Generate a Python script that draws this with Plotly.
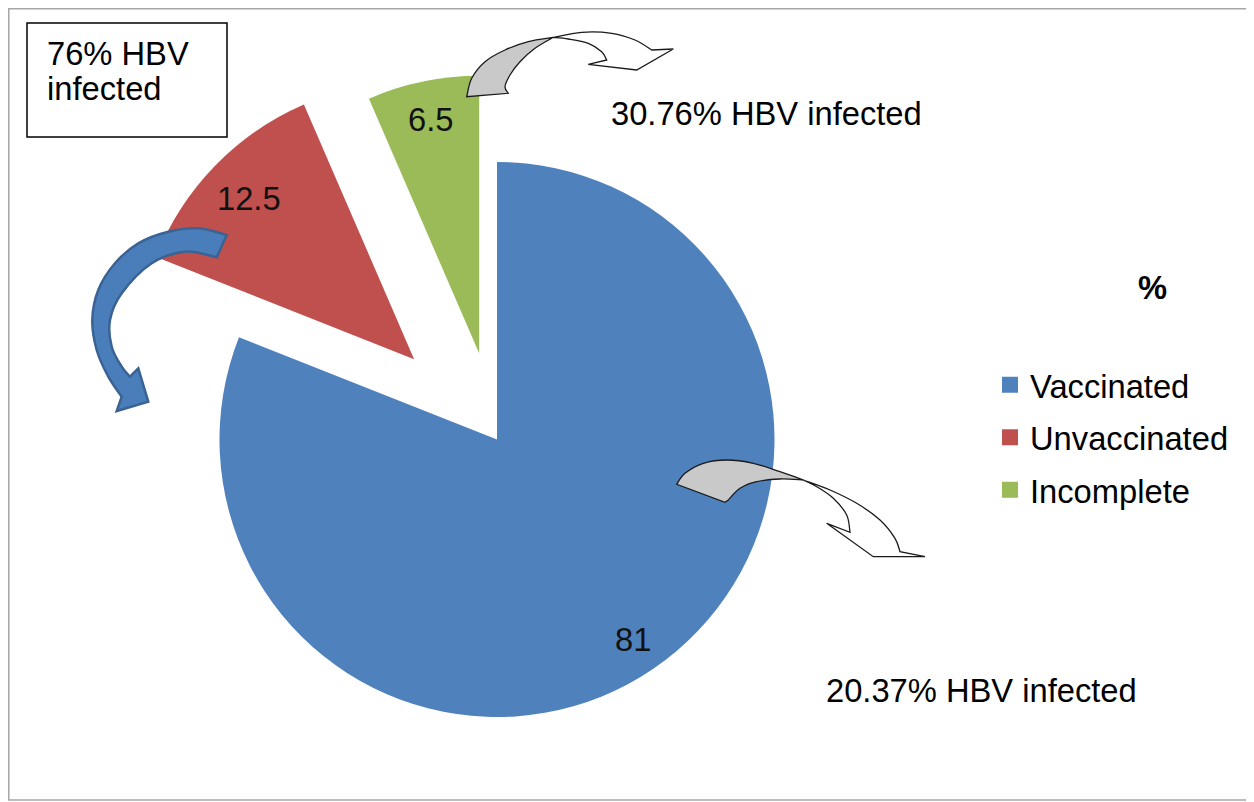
import math
import plotly.graph_objects as go

# page has an 8px body margin; work in reference-pixel coordinates and shift
OFF = 8
W, H = 1254 - OFF, 802 - OFF

# ---------------- data ----------------
categories = ["Vaccinated", "Unvaccinated", "Incomplete"]
values = [81, 12.5, 6.5]
value_labels = ["81", "12.5", "6.5"]
notes = {
    "box": ["76% HBV", "infected"],
    "incomplete": "30.76% HBV infected",
    "vaccinated": "20.37% HBV infected",
}
legend_title = "%"

# ---------------- style ----------------
slice_colors = ["#4F81BD", "#C0504D", "#9BBB59"]
pulls = [0.0, 0.416, 0.317]          # explode fraction of radius
label_r = [0.87, 0.83, 0.86]         # label distance as fraction of radius
CX, CY, R = 497, 439.5, 277.5        # pie centre / radius (reference pixels)
FONT = "Liberation Sans, Arial, sans-serif"
FS = 32.7


def px(x):
    return (x - OFF) / W


def py(y):
    return 1 - (y - OFF) / H


fig = go.Figure()

# slice geometry derived from the values
total = sum(values)
cum = 0.0
centres = []
mids = []
for v, p in zip(values, pulls):
    mid = (cum + v / 2) / total * 2 * math.pi
    cum += v
    mids.append(mid)
    centres.append((CX + p * R * math.sin(mid), CY - p * R * math.cos(mid)))

transparent = "rgba(0,0,0,0)"
for k, (cx, cy) in enumerate(centres):
    cols = [slice_colors[i] if i == k else transparent for i in range(len(values))]
    fig.add_trace(go.Pie(
        labels=categories, values=values, sort=False, direction="clockwise",
        rotation=0, marker=dict(colors=cols, line=dict(width=0)),
        textinfo="none", hoverinfo="label+value", showlegend=False,
        domain=dict(x=[px(cx - R), px(cx + R)], y=[py(cy + R), py(cy - R)]),
    ))

# legend entries
for name, col in zip(categories, slice_colors):
    fig.add_trace(go.Scatter(
        x=[None], y=[None], mode="markers", name=name, legendgroup=name,
        marker=dict(symbol="square", size=16, color=col, line=dict(width=0)),
    ))

annotations = []
# value labels on slices
for k, (cx, cy) in enumerate(centres):
    lx = cx + label_r[k] * R * math.sin(mids[k])
    ly = cy - label_r[k] * R * math.cos(mids[k])
    annotations.append(dict(x=px(lx), y=py(ly), xref="paper", yref="paper",
                            text=value_labels[k], showarrow=False,
                            font=dict(family=FONT, size=FS, color="#111111"),
                            xanchor="center", yanchor="middle"))

# notes
annotations += [
    dict(x=px(45), y=py(53), text=notes["box"][0], xanchor="left"),
    dict(x=px(45), y=py(89), text=notes["box"][1], xanchor="left"),
    dict(x=px(609), y=py(113), text=notes["incomplete"], xanchor="left"),
    dict(x=px(824), y=py(690), text=notes["vaccinated"], xanchor="left"),
    dict(x=px(1152), y=py(287), text="<b>%s</b>" % legend_title, xanchor="center"),
]
for a in annotations:
    a.setdefault("xref", "paper")
    a.setdefault("yref", "paper")
    a.setdefault("showarrow", False)
    a.setdefault("yanchor", "middle")
    a.setdefault("font", dict(family=FONT, size=FS, color="#000000"))


# ---------------- arrow shapes ----------------
def P(pt):
    return "%.5f,%.5f" % (px(pt[0]), py(pt[1]))


def curve(pts):
    s = ""
    n = len(pts)
    for i in range(n - 1):
        p0 = pts[i - 1] if i > 0 else pts[i]
        p1, p2 = pts[i], pts[i + 1]
        p3 = pts[i + 2] if i + 2 < n else pts[i + 1]
        c1 = (p1[0] + (p2[0] - p0[0]) / 6, p1[1] + (p2[1] - p0[1]) / 6)
        c2 = (p2[0] - (p3[0] - p1[0]) / 6, p2[1] - (p3[1] - p1[1]) / 6)
        s += " C %s %s %s" % (P(c1), P(c2), P(p2))
    return s


def lines(pts):
    return "".join(" L %s" % P(p) for p in pts)


def build(parts):
    first = parts[0][1][0]
    s = "M %s" % P(first)
    for kind, pts in parts:
        if kind == "c":
            s += curve(pts)
        else:
            s += lines(pts)
    return s + " Z"


shapes = []

# outer frame (as close to the page edge as the body margin allows)
shapes.append(dict(type="rect", xref="paper", yref="paper",
                   x0=px(8.8), x1=px(1250), y0=py(800), y1=py(8.8),
                   line=dict(color="#a6a6a6", width=1.5)))
# note box
shapes.append(dict(type="rect", xref="paper", yref="paper",
                   x0=px(27), x1=px(227), y0=py(137), y1=py(23),
                   line=dict(color="#000000", width=1.5)))

# arrow A (from incomplete slice)
a_gray = build([
    ("c", [(466.7, 96.7), (471.7, 78.3), (485, 61.7), (505, 50), (528.3, 41.7), (553, 37.5)]),
    ("c", [(553, 37.5), (535, 48.3), (520, 61.7), (510, 75), (505, 86.7), (508.3, 93.3)]),
])
a_white = build([
    ("c", [(553, 37.5), (581.7, 32.3), (611.7, 33.3), (635, 40), (651.7, 50)]),
    ("l", [(673.3, 49), (636.7, 70), (588.3, 64.3), (606.7, 60)]),
    ("c", [(606.7, 60), (601.7, 51.7), (588.3, 43.3), (568.3, 39), (553, 37.5)]),
])
# arrow C (from vaccinated slice)
c_gray = build([
    ("c", [(676.7, 484.3), (685, 473.3), (703.3, 463.3), (726.7, 460), (753.3, 463.3),
           (780, 471.7), (803.3, 480)]),
    ("c", [(803.3, 480), (780, 479), (756.7, 481.7), (740, 488.3), (728.3, 500)]),
    ("l", [(725, 502.3)]),
])
c_white = build([
    ("c", [(803.3, 480), (830, 490), (856.7, 503.3), (880, 520), (895, 538.3), (900, 551.7)]),
    ("l", [(925, 556.7), (873.3, 556.7), (826.7, 523.3), (850, 532.3)]),
    ("c", [(850, 532.3), (846.7, 515), (833.3, 498.3), (816.7, 486.7), (803.3, 480)]),
])
# arrow B (from unvaccinated slice, blue)
b_blue = build([
    ("c", [(226.7, 235), (198.3, 228.3), (168.3, 231.7), (138.3, 243.3), (115, 263.3),
           (98.3, 290), (92.3, 320), (96.7, 350), (108.3, 376.7), (121.7, 396.7)]),
    ("l", [(116.7, 411), (148.3, 401.7), (138.3, 368.3), (130, 376.7)]),
    ("c", [(130, 376.7), (121.7, 366.7), (111.7, 346.7), (110, 320), (121.7, 293.3),
           (151.7, 263.3), (185, 251.7), (216.7, 257.3)]),
])

for path, fill, lc, lw in [
    (a_gray, "#c9c9c9", "#1a1a1a", 1.3),
    (a_white, "#ffffff", "#1a1a1a", 1.3),
    (c_gray, "#c9c9c9", "#1a1a1a", 1.3),
    (c_white, "#ffffff", "#1a1a1a", 1.3),
    (b_blue, "#4A7EBB", "#3A6393", 2.5),
]:
    shapes.append(dict(type="path", xref="paper", yref="paper", path=path,
                       fillcolor=fill, line=dict(color=lc, width=lw), layer="above"))

fig.update_layout(
    width=W, height=H,
    margin=dict(l=0, r=0, t=0, b=0),
    paper_bgcolor="white", plot_bgcolor="white",
    xaxis=dict(visible=False), yaxis=dict(visible=False),
    showlegend=True,
    legend=dict(x=px(990), y=py(357), xanchor="left", yanchor="top",
                bgcolor="rgba(0,0,0,0)", traceorder="grouped", tracegroupgap=7,
                font=dict(family=FONT, size=FS, color="#000000"), itemsizing="trace"),
    annotations=annotations,
    shapes=shapes,
)

fig.write_html("out.html")
